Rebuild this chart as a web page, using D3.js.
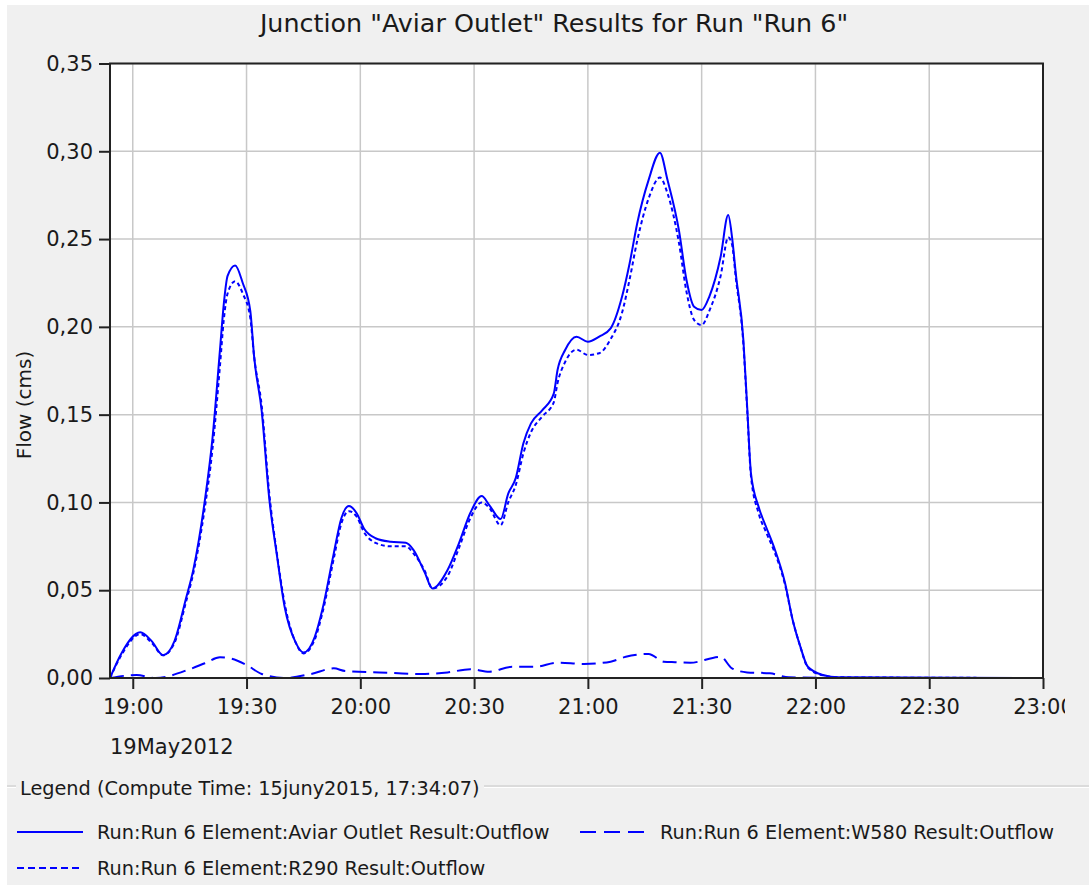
<!DOCTYPE html>
<html>
<head>
<meta charset="utf-8">
<script src="https://cdn.jsdelivr.net/npm/d3@7"></script>
<style>
  body { margin: 0; background: #fff; }
  text { font-family: "DejaVu Sans", Verdana, sans-serif; fill: #1a1a1a; }
</style>
</head>
<body>
<svg id="chart" width="1089" height="885"></svg>
<script>
// --- data (19 May 2012, flow in cms) ---
var outletTimes = ["18:54","18:57","19:02","19:05","19:08","19:11","19:14","19:16","19:19","19:21",
  "19:23","19:24","19:25","19:27","19:29","19:31","19:32","19:34","19:36","19:38",
  "19:40","19:43","19:45","19:48","19:50","19:53","19:55","19:57","19:59","20:01",
  "20:04","20:08","20:12","20:14","20:17","20:19","20:23","20:26","20:29","20:32",
  "20:34","20:37","20:39","20:41","20:43","20:45","20:48","20:51","20:52","20:54",
  "20:57","21:00","21:03","21:06","21:09","21:11","21:13","21:16","21:19","21:21",
  "21:24","21:26","21:28","21:30","21:32","21:35","21:37","21:38","21:39","21:41",
  "21:42","21:43","21:45","21:47","21:49","21:52","21:54","21:56","21:58","22:02",
  "22:06","23:00"];
var outletFlow = [0,0.014,0.026,0.021,0.013,0.021,0.045,0.062,0.101,0.136,
  0.187,0.213,0.229,0.235,0.225,0.209,0.183,0.152,0.102,0.070,
  0.041,0.020,0.0145,0.0235,0.039,0.071,0.091,0.098,0.094,0.085,
  0.0796,0.0776,0.077,0.073,0.060,0.051,0.0615,0.0767,0.094,0.1036,
  0.0985,0.0905,0.105,0.114,0.1337,0.145,0.1526,0.162,0.1754,0.1868,
  0.1944,0.1915,0.1944,0.1991,0.2171,0.2361,0.2589,0.2836,0.2992,0.2836,
  0.2551,0.2267,0.2115,0.2096,0.2171,0.2399,0.2637,0.2513,0.2304,0.1925,
  0.1545,0.1166,0.0976,0.086,0.075,0.054,0.033,0.018,0.0064,0.0017,
  0.0004,0];

var r290Times = outletTimes;
var r290Flow = [0,0.013,0.025,0.020,0.013,0.020,0.043,0.060,0.097,0.130,
  0.178,0.204,0.219,0.226,0.219,0.205,0.183,0.155,0.105,0.071,
  0.043,0.020,0.014,0.022,0.037,0.068,0.088,0.095,0.092,0.083,
  0.077,0.075,0.075,0.071,0.061,0.051,0.058,0.074,0.091,0.100,
  0.097,0.087,0.100,0.110,0.128,0.140,0.149,0.157,0.168,0.180,
  0.187,0.184,0.185,0.193,0.208,0.227,0.249,0.273,0.285,0.276,
  0.248,0.220,0.204,0.201,0.209,0.229,0.251,0.247,0.228,0.190,
  0.153,0.115,0.094,0.083,0.073,0.053,0.033,0.018,0.006,0.0015,
  0.0004,0];

var w580Times = ["18:54","19:01","19:06","19:15","19:19","19:23","19:26","19:30","19:34","19:40",
  "19:47","19:53","19:56","20:05","20:16","20:23","20:29","20:34","20:40","20:46",
  "20:52","20:59","21:06","21:10","21:16","21:20","21:23","21:27","21:35","21:38",
  "21:42","21:48","21:53","22:13"];
var w580Flow = [0,0.0017,0,0.005,0.0084,0.0118,0.011,0.0074,0.0023,0,
  0.0023,0.0055,0.004,0.0032,0.0023,0.0032,0.005,0.0036,0.0064,0.0064,
  0.0087,0.008,0.0093,0.0121,0.0137,0.0093,0.009,0.0087,0.0121,0.0055,
  0.0032,0.0027,0.0004,0];

var yTicks = [0,0.05,0.10,0.15,0.20,0.25,0.30,0.35];
var xTickLabels = ["19:00","19:30","20:00","20:30","21:00","21:30","22:00","22:30","23:00"];
var xStart = "18:54", xEnd = "23:00";
var dateLabel = "19May2012";

var legendItems = [
  {label: "Run:Run 6 Element:Aviar Outlet Result:Outflow", dash: null},
  {label: "Run:Run 6 Element:W580 Result:Outflow", dash: "16,8"},
  {label: "Run:Run 6 Element:R290 Result:Outflow", dash: "7,4"}
];

// --- layout ---
var svg = d3.select("#chart");
var W = 1089, H = 885;
var plot = {left: 110, right: 1043, top: 63.5, bottom: 678};
var blue = "#0000ff";

var parseT = function(s) { return d3.timeParse("%Y-%m-%d %H:%M")("2012-05-19 " + s); };
var comma = d3.formatLocale({decimal: ",", thousands: ".", grouping: [3], currency: ["", ""]}).format(".2f");

var x = d3.scaleTime().domain([parseT(xStart), parseT(xEnd)]).range([plot.left, plot.right]);
var y = d3.scaleLinear().domain([0, 0.35]).range([plot.bottom, plot.top]);

svg.append("rect").attr("x", 7).attr("y", 5).attr("width", W - 7).attr("height", H - 5).attr("fill", "#f0f0f0");

svg.append("rect")
  .attr("x", plot.left).attr("y", plot.top)
  .attr("width", plot.right - plot.left).attr("height", plot.bottom - plot.top)
  .attr("fill", "#fff");

// grid
var xTickDates = xTickLabels.map(parseT);
svg.append("g").selectAll("line").data(xTickDates).join("line")
  .attr("x1", d => x(d)).attr("x2", d => x(d))
  .attr("y1", plot.top).attr("y2", plot.bottom)
  .attr("stroke", "#c8c8c8").attr("stroke-width", 1.5);
svg.append("g").selectAll("line").data(yTicks).join("line")
  .attr("x1", plot.left).attr("x2", plot.right)
  .attr("y1", d => y(d)).attr("y2", d => y(d))
  .attr("stroke", "#c8c8c8").attr("stroke-width", 1.5);

// series
var line = d3.line().x(d => x(d[0])).y(d => y(d[1])).curve(d3.curveMonotoneX);
function pairs(ts, vs) { return ts.map((t, i) => [parseT(t), vs[i]]); }

svg.append("path").datum(pairs(w580Times, w580Flow))
  .attr("d", line).attr("fill", "none").attr("stroke", blue)
  .attr("stroke-width", 2).attr("stroke-dasharray", "14,7");
svg.append("path").datum(pairs(r290Times, r290Flow))
  .attr("d", line).attr("fill", "none").attr("stroke", blue)
  .attr("stroke-width", 2).attr("stroke-dasharray", "4,3");
svg.append("path").datum(pairs(outletTimes, outletFlow))
  .attr("d", line).attr("fill", "none").attr("stroke", blue)
  .attr("stroke-width", 2);

// frame
svg.append("rect")
  .attr("x", plot.left).attr("y", plot.top)
  .attr("width", plot.right - plot.left).attr("height", plot.bottom - plot.top)
  .attr("fill", "none").attr("stroke", "#222").attr("stroke-width", 2);

// axes
svg.append("defs").append("clipPath").attr("id", "xclip")
  .append("rect").attr("x", 0).attr("y", 0).attr("width", 1065).attr("height", H);

var xAxis = svg.append("g")
  .attr("transform", "translate(0," + plot.bottom + ")")
  .attr("clip-path", "url(#xclip)")
  .call(d3.axisBottom(x).tickValues(xTickDates).tickFormat(d3.timeFormat("%H:%M")).tickSize(11).tickPadding(10));
var yAxis = svg.append("g")
  .attr("transform", "translate(" + plot.left + ",0)")
  .call(d3.axisLeft(y).tickValues(yTicks).tickFormat(comma).tickSize(11).tickPadding(6));

[xAxis, yAxis].forEach(function(g) {
  g.select(".domain").remove();
  g.selectAll(".tick line").attr("stroke", "#222").attr("stroke-width", 2);
  g.selectAll(".tick text").attr("font-size", 21).attr("fill", "#1a1a1a")
    .style("font-family", '"DejaVu Sans", Verdana, sans-serif');
});

svg.append("text").attr("x", plot.left).attr("y", 754)
  .attr("font-size", 21).text(dateLabel);

// title and axis label
svg.append("text").attr("x", 554).attr("y", 32).attr("text-anchor", "middle")
  .attr("font-size", 25.4).text('Junction "Aviar Outlet" Results for Run "Run 6"');

svg.append("text").attr("transform", "translate(31,405) rotate(-90)")
  .attr("text-anchor", "middle").attr("font-size", 20).text("Flow (cms)");

// legend
svg.append("line").attr("x1", 7).attr("x2", W).attr("y1", 786).attr("y2", 786)
  .attr("stroke", "#d4d4d4").attr("stroke-width", 1.5);
svg.append("line").attr("x1", 7).attr("x2", W).attr("y1", 787.5).attr("y2", 787.5)
  .attr("stroke", "#fff").attr("stroke-width", 1);
svg.append("rect").attr("x", 16).attr("y", 775).attr("width", 468).attr("height", 26).attr("fill", "#f0f0f0");
svg.append("text").attr("x", 20).attr("y", 795).attr("font-size", 19.3)
  .text("Legend (Compute Time: 15juny2015, 17:34:07)");

var legendPos = [{x: 17, y: 832}, {x: 580, y: 832}, {x: 17, y: 868}];
var lg = svg.append("g").selectAll("g").data(legendItems).join("g")
  .attr("transform", (d, i) => "translate(" + legendPos[i].x + "," + legendPos[i].y + ")");
lg.append("line").attr("x1", 0).attr("x2", 66)
  .attr("stroke", blue).attr("stroke-width", 2)
  .attr("stroke-dasharray", d => d.dash);
lg.append("text").attr("x", 80).attr("y", 6.5).attr("font-size", 19.3).text(d => d.label);
</script>
</body>
</html>
